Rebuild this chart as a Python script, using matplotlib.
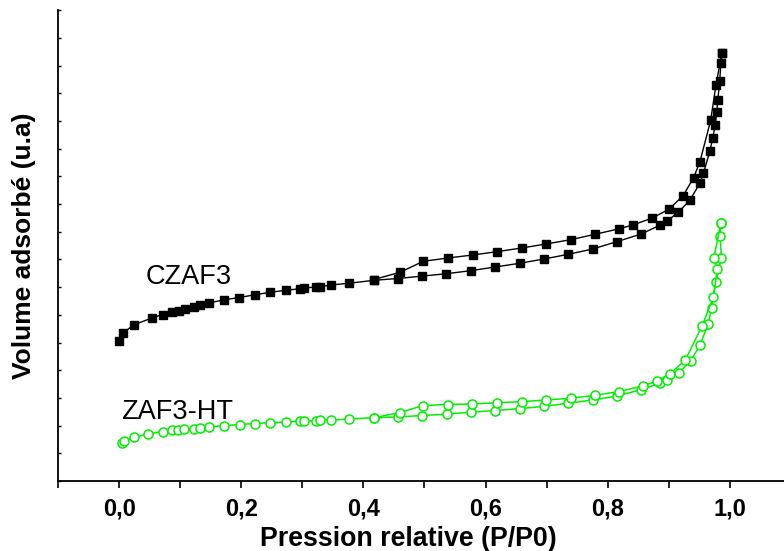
import matplotlib
matplotlib.use("Agg")
import matplotlib.pyplot as plt
from matplotlib.ticker import MultipleLocator, NullFormatter

plt.rcParams['font.family'] = ['Liberation Sans', 'DejaVu Sans']

# CZAF3 (black squares) - adsorption branch
czaf3_ads_p = [0.000, 0.0065, 0.0237, 0.0535, 0.0712, 0.087, 0.0974, 0.1075, 0.1224, 0.132,
               0.1468, 0.1723, 0.1969, 0.2221, 0.2475, 0.2725, 0.2967, 0.3033, 0.3229, 0.329,
               0.347, 0.3769, 0.4173, 0.4563, 0.4962, 0.536, 0.5756, 0.6154, 0.6558, 0.6956,
               0.7354, 0.7753, 0.8146, 0.8548, 0.8854, 0.8964, 0.9157, 0.9345, 0.9509, 0.9566,
               0.9673, 0.9718, 0.9759, 0.9784, 0.9802, 0.9833, 0.9853, 0.9869]
czaf3_ads_v = [140, 148, 156, 163, 166.5, 169, 170.5, 172.2, 173.8, 175.7,
               178, 181.2, 183.5, 186.2, 188.7, 190.7, 192.3, 193, 194, 194.3,
               196, 197.8, 200.7, 202.5, 204.9, 207.3, 210.3, 214, 217.7, 222,
               226.7, 232, 239.3, 247, 255.8, 259.7, 268.8, 281, 297.7, 307.7,
               330, 343, 355.7, 368.8, 381, 400.3, 418.3, 427.7]
# CZAF3 - desorption branch
czaf3_des_p = [0.9869, 0.9771, 0.9686, 0.9509, 0.9405, 0.9236, 0.9002, 0.8718, 0.8408, 0.8186,
               0.779, 0.7393, 0.6989, 0.6591, 0.6182, 0.5789, 0.5385, 0.498, 0.4599, 0.4173]
czaf3_des_v = [427.7, 396, 361, 319.2, 303.3, 285.5, 271.7, 262.7, 256, 252.2,
               246.7, 241.3, 237, 233, 229.3, 226, 223, 219.7, 208.7, 201.5]

# ZAF3-HT (green open circles) - adsorption branch
zaf3ht_ads_p = [0.0044, 0.0082, 0.025, 0.047, 0.0715, 0.0863, 0.097, 0.1069, 0.1231, 0.1321,
                0.1473, 0.1723, 0.1975, 0.2223, 0.2471, 0.2728, 0.2967, 0.3033, 0.3216, 0.329,
                0.347, 0.3769, 0.4173, 0.4558, 0.4964, 0.5363, 0.5761, 0.6162, 0.656, 0.6959,
                0.7354, 0.7753, 0.8154, 0.8547, 0.8854, 0.8964, 0.916, 0.9357, 0.9509, 0.9645,
                0.97, 0.9771, 0.9861, 0.9836, 0.9853]
zaf3ht_ads_v = [37.7, 40, 43.8, 47, 49.5, 50.7, 51, 51.7, 52.5, 52.8,
                54.2, 55.3, 56.5, 57.5, 58.3, 59, 59.9, 60, 60, 60.8,
                60.8, 62, 63.3, 64, 65.5, 66.9, 68.8, 70.5, 72.4, 74.6,
                77.8, 81, 85, 91.4, 97.8, 101, 108, 120, 135.8, 157,
                173, 199.5, 223.5, 245.5, 258]
# ZAF3-HT - desorption branch
zaf3ht_des_p = [0.9853, 0.9738, 0.9795, 0.9727, 0.9542, 0.9268, 0.9018, 0.88, 0.8584, 0.8188,
                0.7795, 0.7398, 0.6989, 0.6588, 0.6187, 0.5782, 0.538, 0.498, 0.4599, 0.4173]
zaf3ht_des_v = [258, 223.5, 212, 183.7, 154.8, 120.8, 107.2, 99.8, 95.2, 89.5,
                85.7, 82.8, 81, 79.3, 78.3, 77, 76.5, 75.5, 68.5, 63.3]

x_ticks = [0.0, 0.2, 0.4, 0.6, 0.8, 1.0]
x_tick_labels = ['0,0', '0,2', '0,4', '0,6', '0,8', '1,0']

fig = plt.figure(figsize=(7.84, 5.51), dpi=100)
ax = fig.add_axes([58/784, 70/551, 733/784, 471/551])

black = '#000000'
green = '#00f000'
ax.plot(czaf3_ads_p, czaf3_ads_v, '-', color=black, lw=1.0, marker='s', ms=5.5,
        mfc=black, mec=black)
ax.plot(czaf3_des_p, czaf3_des_v, '-', color=black, lw=1.0, marker='s', ms=5.5,
        mfc=black, mec=black)
ax.plot(zaf3ht_ads_p, zaf3ht_ads_v, '-', color=green, lw=1.1, marker='o', ms=6.5,
        mfc='white', mec=green, mew=1.1)
ax.plot(zaf3ht_des_p, zaf3ht_des_v, '-', color=green, lw=1.1, marker='o', ms=6.5,
        mfc='white', mec=green, mew=1.1)

ax.set_xlim(-0.1, 1.1)
ax.set_ylim(0, 471)

ax.spines['top'].set_visible(False)
ax.spines['right'].set_visible(False)
ax.spines['left'].set_linewidth(1.3)
ax.spines['bottom'].set_linewidth(1.3)

ax.set_xticks(x_ticks)
ax.set_xticklabels(x_tick_labels, fontsize=17, fontweight='bold')
ax.xaxis.set_minor_locator(MultipleLocator(0.1))
ax.tick_params(axis='x', which='both', direction='out', length=5, width=1.2, pad=7)

ax.yaxis.set_major_locator(MultipleLocator(27.7))
ax.yaxis.set_major_formatter(NullFormatter())
ax.tick_params(axis='y', which='major', direction='in', length=2, width=1.0)

ax.set_xlabel('Pression relative (P/P0)', fontsize=19.3, fontweight='bold')
ax.xaxis.set_label_coords(350/733, -45/471)
ax.set_ylabel('Volume adsorbé (u.a)', fontsize=19, fontweight='bold')
ax.yaxis.set_label_coords(-22/733, 0.5)

ax.text(0.043, 204, 'CZAF3', fontsize=19.5, va='center', ha='left')
ax.text(0.004, 69, 'ZAF3-HT', fontsize=19.5, va='center', ha='left')

fig.savefig('out.png', dpi=100)
